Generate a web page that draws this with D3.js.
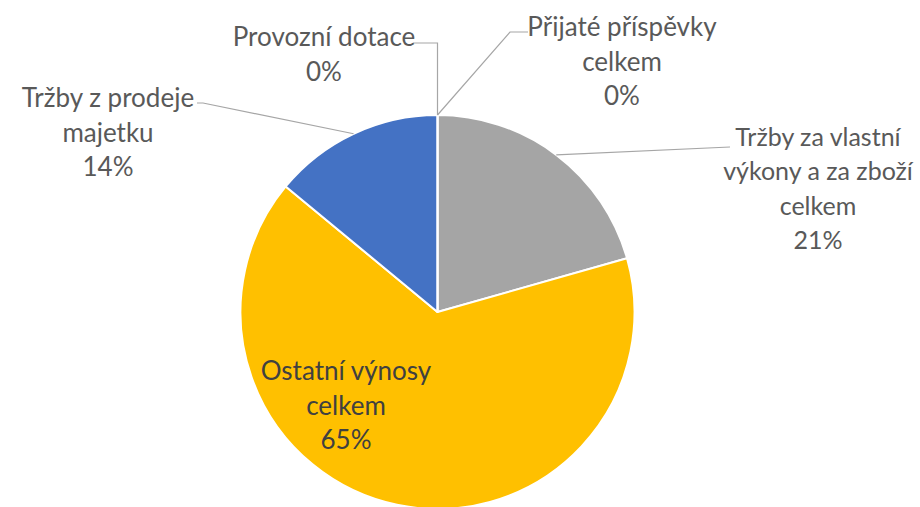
<!DOCTYPE html>
<html><head><meta charset="utf-8">
<script src="https://cdn.jsdelivr.net/npm/d3@7"></script>
<style>html,body{margin:0;padding:0;background:#fff;}svg{display:block;}</style>
</head><body>
<svg id="c" width="920" height="507"></svg>
<script>
const categories = ["Přijaté příspěvky celkem","Tržby za vlastní výkony a za zboží celkem","Ostatní výnosy celkem","Tržby z prodeje majetku","Provozní dotace"];
const values = [0, 20.6, 65.4, 14.0, 0];
const percentLabels = ["0%","21%","65%","14%","0%"];
const labelLines = [["Přijaté příspěvky","celkem"],["Tržby za vlastní","výkony a za zboží","celkem"],["Ostatní výnosy","celkem"],["Tržby z prodeje","majetku"],["Provozní dotace"]];
const colors = ["#4472C4","#A5A5A5","#FFC000","#4472C4","#ED7D31"];

const svg = d3.select("#c");
const cx = 437.5, cy = 312, r = 197;
const g = svg.append("g").attr("transform",`translate(${cx},${cy})`);
const pie = d3.pie().value(d=>d).sort(null);
const arcs = pie(values);
const arc = d3.arc().innerRadius(0).outerRadius(r);
g.selectAll("path").data(arcs).enter().append("path")
  .attr("d",arc).attr("fill",(d,i)=>colors[i])
  .attr("stroke","#fff").attr("stroke-width",2).attr("stroke-linejoin","round");

// label placements (absolute) & leader line bends
const labelPos = [
  {x:622,y:27,bend:[[510,32],[528,32]]},
  {x:818,y:137,bend:[[730,147]],fs:25},
  {x:346,y:371,bend:null,inside:true},
  {x:108,y:98,bend:[[203,103],[197,103]]},
  {x:324,y:37,bend:[[437.5,43],[413,43]]}
];
const lh = 34.5;
arcs.forEach((a,i)=>{
  const p = labelPos[i];
  if(p.bend){
    const ang = (a.startAngle+a.endAngle)/2;
    const pts = [[Math.sin(ang)*r, -Math.cos(ang)*r]].concat(p.bend.map(q=>[q[0]-cx,q[1]-cy]));
    g.append("path").attr("d",d3.line()(pts)).attr("fill","none")
      .attr("stroke","#A6A6A6").attr("stroke-width",1.2);
  }
  const lines = labelLines[i].concat([percentLabels[i]]);
  const t = svg.append("text").attr("text-anchor","middle")
    .attr("font-family","Lato, 'Open Sans', sans-serif").attr("font-size",p.fs||26)
    .attr("fill", p.inside ? "#404040" : "#595959");
  lines.forEach((s,k)=>{
    t.append("tspan").attr("x",p.x).attr("y",p.y+k*lh).attr("dy","0.35em").text(s);
  });
});
</script>
</body></html>
